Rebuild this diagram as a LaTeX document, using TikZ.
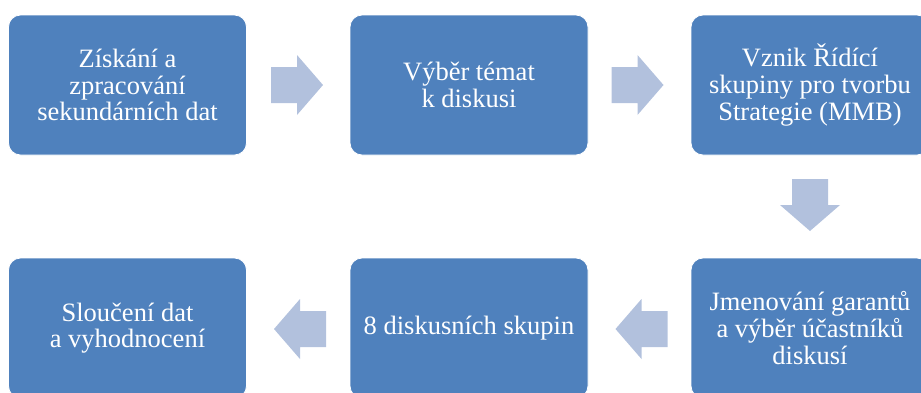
\documentclass[tikz,border=0pt]{standalone}
\usepackage{fontspec}
\setmainfont{Liberation Serif}
\definecolor{boxblue}{HTML}{4F81BD}
\definecolor{arrowblue}{HTML}{B2C1DD}
\begin{document}
\begin{tikzpicture}[x=1pt,y=-1pt,
  stepbox/.style={rectangle,rounded corners=12pt,fill=boxblue,draw=white,line width=0.8pt,
    minimum width=238pt,minimum height=140pt,inner sep=4pt,text=white,align=center,
    font=\fontsize{26.5pt}{26.7pt}\selectfont},
  barrow/.pic={\fill[arrowblue] (-26,-18) -- (0,-18) -- (0,-30) -- (26,0) -- (0,30) -- (0,18) -- (-26,18) -- cycle;
    \coordinate (-tip) at (26,0); \coordinate (-tail) at (-26,0);}]
\useasboundingbox (0,0) rectangle (921,392);
\clip (0,0) rectangle (921,392);
\node[stepbox] (b1) at (127.5,85) {Získání a\\zpracování\\sekundárních dat};
\node[stepbox] (b2) at (469,85) {Výběr témat\\k diskusi};
\node[stepbox] (b3) at (810,85) {Vznik Řídící\\skupiny pro tvorbu\\Strategie (MMB)};
\node[stepbox] (b4) at (810,328) {Jmenování garantů\\a výběr účastníků\\diskusí};
\node[stepbox] (b5) at (469,328) {8 diskusních skupin};
\node[stepbox] (b6) at (127.5,328) {Sloučení dat\\a vyhodnocení};
\pic (a1) at (297,85) {barrow};
\pic (a2) at (637.5,85) {barrow};
\pic[rotate=-90] (a3) at (810,205) {barrow};
\pic[rotate=180] (a4) at (641.5,329) {barrow};
\pic[rotate=180] (a5) at (300,329) {barrow};
\end{tikzpicture}
\end{document}
